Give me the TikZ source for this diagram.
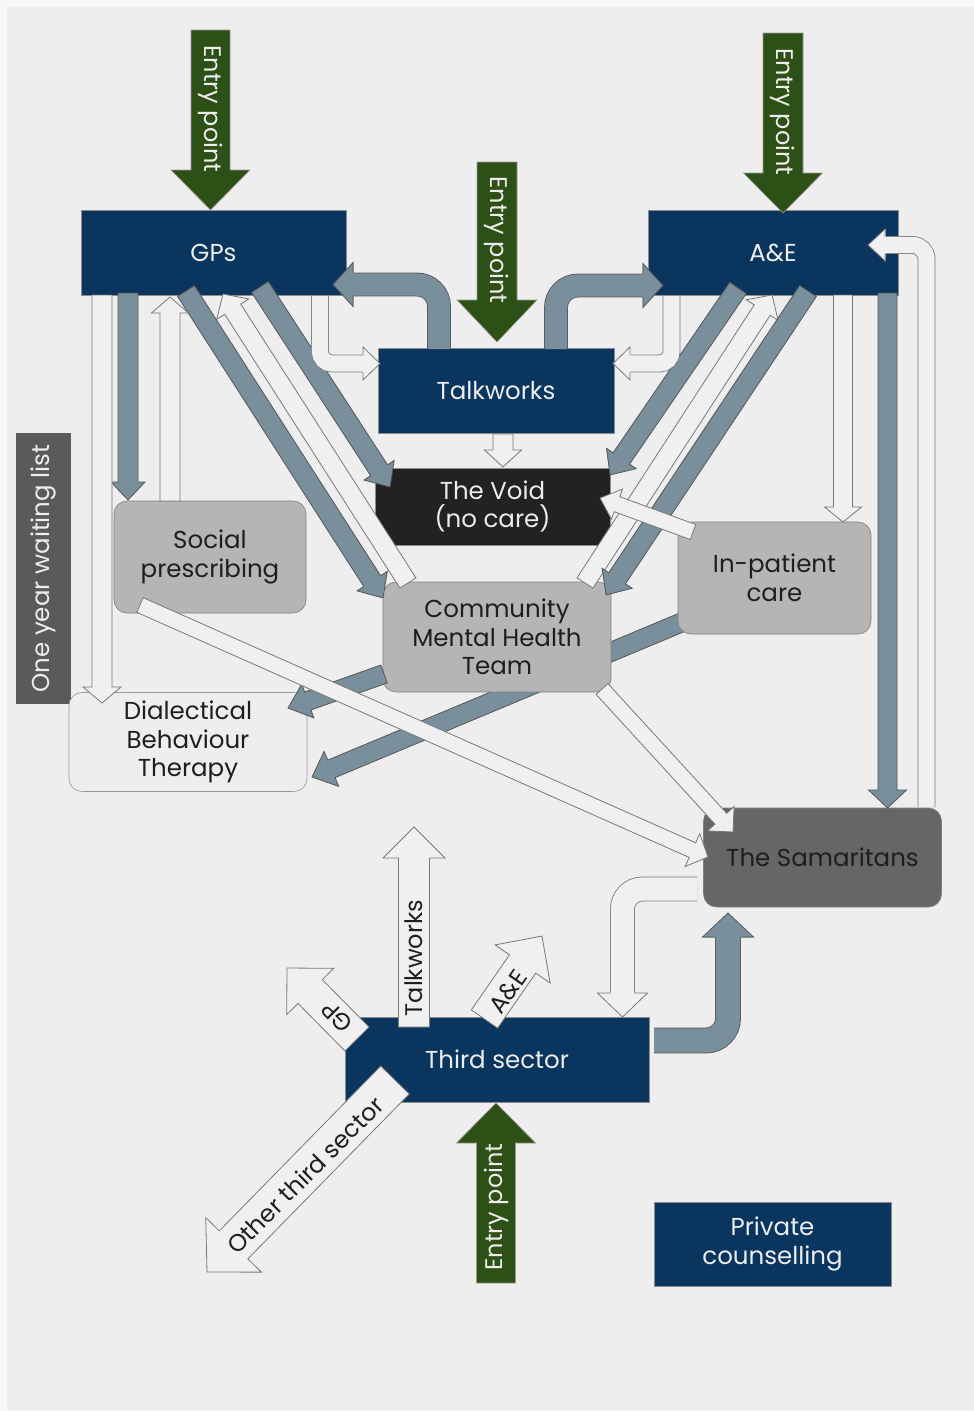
\documentclass[tikz,border=0pt]{standalone}
\usepackage{fontspec}
\setmainfont{Poppins}
\usetikzlibrary{calc}
\definecolor{navy}{RGB}{10,53,95}
\definecolor{egreen}{RGB}{45,80,22}
\definecolor{gfill}{RGB}{122,143,156}
\definecolor{gline}{RGB}{85,85,85}
\definecolor{wfill}{RGB}{240,240,240}
\definecolor{wline}{RGB}{120,120,120}
\definecolor{panel}{RGB}{238,238,238}
\definecolor{outerbg}{RGB}{247,247,247}
\definecolor{boxgray}{RGB}{181,181,181}
\definecolor{samgray}{RGB}{102,102,102}
\definecolor{voidblack}{RGB}{34,34,34}
\definecolor{waitgray}{RGB}{90,90,90}
\definecolor{txtdark}{RGB}{30,30,30}
\newcommand\myboxfont{\fontsize{24.5}{28.5}\selectfont}
\newcommand\myarrowfont{\fontsize{24}{28}\selectfont}
% straight block arrow: style, from, to, shaft width, head width, head length
\newcommand{\barrow}[6]{%
  \path let \p1=(#2), \p2=(#3) in
    \pgfextra{\pgfmathsetmacro\baA{atan2(\y2-\y1,\x2-\x1)}%
      \pgfmathsetmacro\baL{veclen(\x2-\x1,\y2-\y1)}%
      \global\let\baang\baA\global\let\balen\baL};
  \begin{scope}[shift={(#2)}, rotate=\baang]
    \path[#1] (0,{-(#4)/2}) -- ({\balen-(#6)},{-(#4)/2}) -- ({\balen-(#6)},{-(#5)/2})
      -- (\balen,0) -- ({\balen-(#6)},{(#5)/2}) -- ({\balen-(#6)},{(#4)/2}) -- (0,{(#4)/2}) -- cycle;
  \end{scope}}
% arrow head only: style, base centre, angle, shaft width, head width, head length
\newcommand{\bhead}[6]{%
  \begin{scope}[shift={(#2)}, rotate=#3]
    \path[#1, draw=none] (-0.5,{-(#5)/2}) -- (#6,0) -- (-0.5,{(#5)/2}) -- cycle;
    \path[#1, fill=none] (0,{-(#4)/2}) -- (0,{-(#5)/2}) -- (#6,0) -- (0,{(#5)/2}) -- (0,{(#4)/2});
  \end{scope}}
\begin{document}
\begin{tikzpicture}[x=1pt,y=-1pt,
  box/.style={draw=black!45, line width=0.6pt, inner sep=0pt, align=center, font=\myboxfont},
  navybox/.style={box, fill=navy, text=white!93!black},
  greybox/.style={box, rounded corners=13pt, fill=boxgray, draw=black!50, text=txtdark},
  garr/.style={fill=gfill, draw=gline, line width=0.8pt, line join=miter},
  warr/.style={fill=wfill, draw=wline, line width=0.8pt, line join=miter},
  earr/.style={fill=egreen, draw=black!40, line width=0.6pt, line join=miter},
  gshaft/.style={draw=gline, line width=0.8pt, double=gfill, double distance=#1},
  wshaft/.style={draw=wline, line width=0.8pt, double=wfill, double distance=#1},
  entrytext/.style={font=\myarrowfont, text=white!93!black, inner sep=0pt},
  arrtext/.style={font=\myarrowfont, text=txtdark, inner sep=0pt}]
\useasboundingbox (0,0) rectangle (974,1411);
\fill[outerbg] (0,0) rectangle (974,1411);
\fill[panel] (7,7) rectangle (974,1410);

% waiting list
\node[box, fill=waitgray, draw=none, text=white!93!black, minimum width=271, minimum height=55, rotate=90] (wait) at (43.5,568.5) {One year waiting list};

% gray arrow passing behind CMHT
\coordinate (g7a) at (697,616); \coordinate (g7b) at (312,777);
\barrow{garr}{g7a}{g7b}{19}{38}{21}

% boxes
\node[navybox, minimum width=265, minimum height=85] (gp) at (213.5,252.5) {GPs};
\node[navybox, minimum width=250, minimum height=85] (ae) at (773,252.5) {A\&E};
\node[navybox, minimum width=236, minimum height=85] (talk) at (496,390.5) {Talkworks};
\node[box, fill=voidblack, text=white!93!black, minimum width=235, minimum height=77] (void) at (492.5,506.5) {The Void\\(no care)};
\node[greybox, minimum width=192, minimum height=112] (social) at (210,557) {Social\\prescribing};
\node[greybox, minimum width=228, minimum height=110] (cmht) at (497,637) {Community\\Mental Health\\Team};
\node[greybox, minimum width=193, minimum height=112] (inpat) at (774.5,578) {In-patient\\care};
\node[greybox, fill=panel, draw=black!40, minimum width=238, minimum height=99] (dbt) at (188,742) {Dialectical\\Behaviour\\Therapy};
\node[greybox, fill=samgray, minimum width=238, minimum height=99] (sam) at (822.5,857.5) {The Samaritans};
\node[navybox, minimum width=304, minimum height=85] (third) at (497,1059.5) {Third sector};
\node[navybox, minimum width=237, minimum height=84] (priv) at (772.5,1244) {Private\\counselling};

% white arrows from CMHT up to GPs and A&E
\coordinate (w3a) at (408,583); \coordinate (w3b) at (223,294);
\barrow{warr}{w3a}{w3b}{19}{38}{18}
\coordinate (w4a) at (585,583); \coordinate (w4b) at (772,295);
\barrow{warr}{w4a}{w4b}{19}{38}{18}

% gray straight arrows
\coordinate (g1a) at (128,293); \coordinate (g1b) at (128,500);
\barrow{garr}{g1a}{g1b}{20}{34}{18}
\coordinate (g2a) at (186,291); \coordinate (g2b) at (383,598);
\barrow{garr}{g2a}{g2b}{20}{36}{20}
\coordinate (g3a) at (260,287); \coordinate (g3b) at (390,487);
\barrow{garr}{g3a}{g3b}{20}{36}{20}
\coordinate (g4a) at (738,288); \coordinate (g4b) at (610,475);
\barrow{garr}{g4a}{g4b}{20}{36}{20}
\coordinate (g5a) at (808,291); \coordinate (g5b) at (606,595);
\barrow{garr}{g5a}{g5b}{20}{36}{20}
\coordinate (g6a) at (887.5,293); \coordinate (g6b) at (887.5,808);
\barrow{garr}{g6a}{g6b}{19}{38}{18}
\coordinate (g8a) at (384,674); \coordinate (g8b) at (288,708);
\barrow{garr}{g8a}{g8b}{19}{36}{21}

% gray bent arrows
\coordinate (gb1a) at (439,349); \coordinate (gb1b) at (353,284.5);
\draw[gshaft=22.2pt, rounded corners=22pt] (gb1a) |- (gb1b);
\bhead{garr}{gb1b}{180}{23}{44}{20}
\coordinate (gb2a) at (556,349); \coordinate (gb2b) at (643,285.5);
\draw[gshaft=22.2pt, rounded corners=22pt] (gb2a) |- (gb2b);
\bhead{garr}{gb2b}{0}{23}{44}{20}
\coordinate (gb3a) at (654,1040.5); \coordinate (gb3b) at (728,937);
\draw[gshaft=24.2pt, rounded corners=22pt] (gb3a) -| (gb3b);
\bhead{garr}{gb3b}{90}{25}{51}{24}

% white straight arrows
\coordinate (w1a) at (102,295); \coordinate (w1b) at (102,703);
\barrow{warr}{w1a}{w1b}{20}{38}{16}
\coordinate (w2a) at (170,501); \coordinate (w2b) at (170,297);
\barrow{warr}{w2a}{w2b}{20}{37}{16}
\coordinate (w5a) at (503,434); \coordinate (w5b) at (503,467);
\barrow{warr}{w5a}{w5b}{20}{37}{17}
\coordinate (w6a) at (843,295); \coordinate (w6b) at (843,522);
\barrow{warr}{w6a}{w6b}{19}{37}{15}
\coordinate (w8a) at (140,605); \coordinate (w8b) at (708,857);
\barrow{warr}{w8a}{w8b}{16}{36}{17}
\coordinate (w9a) at (602,689); \coordinate (w9b) at (733,832);
\barrow{warr}{w9a}{w9b}{16}{36}{18}
\coordinate (w7a) at (693,532); \coordinate (w7b) at (600,498);
\barrow{warr}{w7a}{w7b}{16}{32}{18}

% white bent arrows
\coordinate (wb1a) at (320,296); \coordinate (wb1b) at (363,363.5);
\draw[wshaft=16.2pt, rounded corners=12pt] (wb1a) |- (wb1b);
\bhead{warr}{wb1b}{0}{17}{33}{17}
\coordinate (wb2a) at (671.5,296); \coordinate (wb2b) at (630,363.5);
\draw[wshaft=16.2pt, rounded corners=12pt] (wb2a) |- (wb2b);
\bhead{warr}{wb2b}{180}{17}{33}{17}
\coordinate (wb3a) at (926.5,807); \coordinate (wb3b) at (885,245);
\draw[wshaft=16.2pt, rounded corners=14pt] (wb3a) |- (wb3b);
\bhead{warr}{wb3b}{180}{17}{32}{17}
\coordinate (wb4a) at (697,889); \coordinate (wb4b) at (622.5,993);
\draw[wshaft=23.2pt, rounded corners=20pt] (wb4a) -| (wb4b);
\bhead{warr}{wb4b}{-90}{24}{50}{24}

% third sector outgoing labelled arrows
\coordinate (t1a) at (357,1039); \coordinate (t1b) at (287,968);
\barrow{warr}{t1a}{t1b}{34}{66}{33}
\node[arrtext, rotate=135] (t1lab) at (337,1017) {GP};
\coordinate (t2a) at (414,1027); \coordinate (t2b) at (414,827);
\barrow{warr}{t2a}{t2b}{31}{62}{31}
\node[arrtext, rotate=90] (t2lab) at (414,958) {Talkworks};
\coordinate (t3a) at (484.5,1019); \coordinate (t3b) at (542,936);
\barrow{warr}{t3a}{t3b}{32}{67}{34}
\node[arrtext, rotate=55] (t3lab) at (508,992) {A\&E};
\coordinate (t4a) at (395,1080); \coordinate (t4b) at (207,1272);
\barrow{warr}{t4a}{t4b}{40}{78}{38}
\node[arrtext, rotate=45] (t4lab) at (305,1175) {Other third sector};

% entry points
\coordinate (e1a) at (210.5,30); \coordinate (e1b) at (210.5,210);
\barrow{earr}{e1a}{e1b}{39}{79}{40}
\node[entrytext, rotate=-90] (e1lab) at (210.5,109) {Entry point};
\coordinate (e2a) at (497,162); \coordinate (e2b) at (497,342);
\barrow{earr}{e2a}{e2b}{40}{80}{42}
\node[entrytext, rotate=-90] (e2lab) at (497,240) {Entry point};
\coordinate (e3a) at (783,33); \coordinate (e3b) at (783,213);
\barrow{earr}{e3a}{e3b}{40}{79}{40}
\node[entrytext, rotate=-90] (e3lab) at (783,112) {Entry point};
\coordinate (e4a) at (496,1283); \coordinate (e4b) at (496,1103);
\barrow{earr}{e4a}{e4b}{39}{79}{40}
\node[entrytext, rotate=90] (e4lab) at (496,1207) {Entry point};
\end{tikzpicture}
\end{document}
